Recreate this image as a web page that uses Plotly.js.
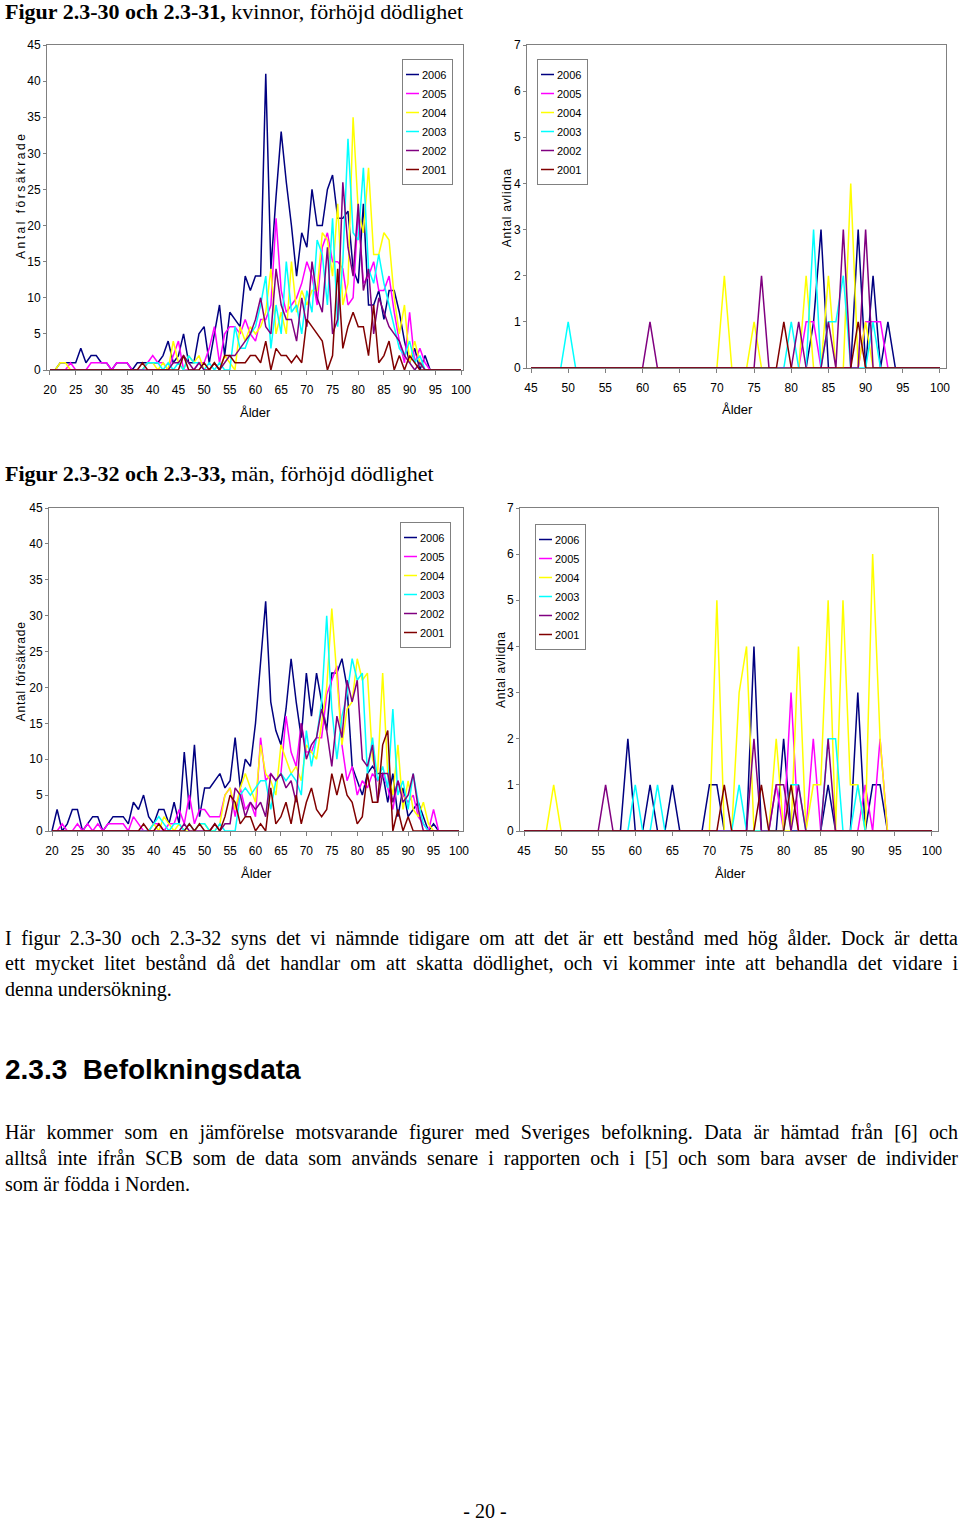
<!DOCTYPE html>
<html><head><meta charset="utf-8">
<script src="https://cdn.plot.ly/plotly-3.0.1.min.js"></script>
<style>
body{margin:0;background:#fff;width:960px;height:1521px;position:relative;overflow:hidden}
#plot{position:absolute;left:0;top:0;width:960px;height:900px}
.t{position:absolute;left:5px;font-family:"Liberation Serif","Times New Roman",serif;font-size:20px;line-height:24px;color:#000;white-space:nowrap}
.f{position:absolute;left:5px;font-family:"Liberation Serif","Times New Roman",serif;font-size:22px;line-height:26px;color:#000;white-space:nowrap}
.j{position:absolute;left:5px;width:953px;font-family:"Liberation Serif","Times New Roman",serif;font-size:20px;line-height:24px;color:#000;text-align:justify;text-align-last:justify;white-space:normal}
.h{position:absolute;left:5px;font-family:"Liberation Sans",Arial,sans-serif;font-weight:bold;font-size:28px;line-height:34px;color:#000;white-space:pre}
</style>
</head><body>
<div id="plot"></div>
<div class="f" style="top:-1px"><b>Figur 2.3-30 och 2.3-31,</b> kvinnor, förhöjd dödlighet</div>
<div class="f" style="top:461px"><b>Figur 2.3-32 och 2.3-33,</b> män, förhöjd dödlighet</div>
<div class="j" style="top:926px">I figur 2.3-30 och 2.3-32 syns det vi nämnde tidigare om att det är ett bestånd med hög ålder. Dock är detta</div>
<div class="j" style="top:951px">ett mycket litet bestånd då det handlar om att skatta dödlighet, och vi kommer inte att behandla det vidare i</div>
<div class="t" style="top:977px">denna undersökning.</div>
<div class="h" style="top:1053px">2.3.3  Befolkningsdata</div>
<div class="j" style="top:1120px">Här kommer som en jämförelse motsvarande figurer med Sveriges befolkning. Data är hämtad från [6] och</div>
<div class="j" style="top:1146px">alltså inte ifrån SCB som de data som används senare i rapporten och i [5] och som bara avser de individer</div>
<div class="t" style="top:1172px">som är födda i Norden.</div>
<div class="t" style="top:1499px;left:0;width:970px;text-align:center">- 20 -</div>
<script>
// ---- categories ----
const agesInsured = [20,21,22,23,24,25,26,27,28,29,30,31,32,33,34,35,36,37,38,39,40,41,42,43,44,45,46,47,48,49,50,51,52,53,54,55,56,57,58,59,60,61,62,63,64,65,66,67,68,69,70,71,72,73,74,75,76,77,78,79,80,81,82,83,84,85,86,87,88,89,90,91,92,93,94,95,96,97,98,99,100];
const agesDeaths = [45,46,47,48,49,50,51,52,53,54,55,56,57,58,59,60,61,62,63,64,65,66,67,68,69,70,71,72,73,74,75,76,77,78,79,80,81,82,83,84,85,86,87,88,89,90,91,92,93,94,95,96,97,98,99,100];
const years = ['2006','2005','2004','2003','2002','2001'];
const xTicksInsured = [20,25,30,35,40,45,50,55,60,65,70,75,80,85,90,95,100];
const xTicksDeaths = [45,50,55,60,65,70,75,80,85,90,95,100];
const yTicksInsured = [0,5,10,15,20,25,30,35,40,45];
const yTicksDeaths = [0,1,2,3,4,5,6,7];

// ---- women, insured (ages 20-100) ----
const w2006 = [0,0,1,1,1,1,3,1,2,2, 1,1,0,1,1,1,0,1,1,1, 1,1,2,4,1,2,5,1,1,5, 6,1,5,9,2,8,7,6,13,11, 13,13,41,14,24,33,26,20,13,19, 17,25,20,20,25,27,21,21,22,14, 12,23,9,9,11,7,11,11,8,4, 1,3,0,2,0,0,0,0,0,0,0];
const w2005 = [0,0,0,0,1,0,0,0,1,1, 1,1,0,1,1,1,0,0,0,1, 2,1,1,0,2,4,0,0,0,1, 1,3,6,1,5,6,6,5,7,5, 4,7,7,9,21,11,8,9,10,12, 15,13,9,17,19,15,15,14,9,10, 22,12,13,15,11,11,13,8,4,1, 8,1,3,1,0,0,0,0,0,0,0];
const w2004 = [0,0,1,1,0,0,0,0,0,0, 0,0,0,0,0,0,0,0,0,1, 1,0,1,0,4,1,0,2,1,2, 0,0,1,0,2,1,0,6,4,6, 5,6,8,14,5,8,5,15,8,11, 9,11,11,19,18,13,23,9,12,35, 22,19,28,16,16,19,18,10,5,9, 1,4,1,0,0,0,0,0,0,0,0];
const w2003 = [0,0,0,0,0,0,0,0,0,0, 0,0,0,0,0,0,0,0,0,1, 1,1,0,1,0,1,0,2,1,1, 0,1,0,1,0,0,6,3,3,5, 6,9,13,3,9,5,15,8,9,5, 11,8,18,16,9,21,6,15,32,19, 18,28,14,12,16,12,9,6,3,2, 4,1,2,0,0,0,0,0,0,0,0];
const w2002 = [0,0,0,0,0,0,0,0,0,0, 0,0,0,0,0,0,0,0,0,0, 0,0,0,0,1,1,2,1,0,1, 0,0,1,0,1,2,2,3,4,5, 7,10,6,5,14,9,7,7,4,10, 6,15,10,8,17,5,7,26,17,13, 23,11,14,5,10,8,6,5,4,2, 1,0,1,0,0,0,0,0,0,0,0];
const w2001 = [0,0,0,0,0,0,0,0,0,0, 0,0,0,0,0,0,0,0,1,0, 0,0,0,0,0,0,2,0,0,0, 1,0,1,0,2,2,1,1,1,2, 2,1,4,0,3,2,2,1,2,1, 7,6,5,4,0,2,14,3,6,8, 6,6,2,9,1,2,4,0,2,0, 2,1,0,0,0,0,0,0,0,0,0];

// ---- women, deaths (ages 45-100) ----
const wd2006 = [0,0,0,0,0,0,0,0,0,0, 0,0,0,0,0,0,0,0,0,0, 0,0,0,0,0,0,0,0,0,0, 0,0,0,0,0,0,0,0,1,3, 0,0,0,0,3,0,2,0,1,0, 0,0,0,0,0,0];
const wd2005 = [0,0,0,0,0,0,0,0,0,0, 0,0,0,0,0,0,0,0,0,0, 0,0,0,0,0,0,0,0,0,0, 0,0,0,0,0,0,0,1,1,0, 0,0,0,0,0,1,1,1,0,0, 0,0,0,0,0,0];
const wd2004 = [0,0,0,0,0,0,0,0,0,0, 0,0,0,0,0,0,0,0,0,0, 0,0,0,0,0,0,2,0,0,0, 1,0,0,0,0,0,0,2,0,0, 2,0,0,4,0,1,0,0,0,0, 0,0,0,0,0,0];
const wd2003 = [0,0,0,0,0,1,0,0,0,0, 0,0,0,0,0,0,0,0,0,0, 0,0,0,0,0,0,0,0,0,0, 0,0,0,0,0,1,0,0,3,0, 1,1,2,0,0,0,1,0,0,0, 0,0,0,0,0,0];
const wd2002 = [0,0,0,0,0,0,0,0,0,0, 0,0,0,0,0,0,1,0,0,0, 0,0,0,0,0,0,0,0,0,0, 0,2,0,0,0,0,1,0,0,0, 1,0,3,0,0,3,0,0,0,0, 0,0,0,0,0,0];
const wd2001 = [0,0,0,0,0,0,0,0,0,0, 0,0,0,0,0,0,0,0,0,0, 0,0,0,0,0,0,0,0,0,0, 0,0,0,0,1,0,0,0,0,0, 0,0,0,0,1,0,0,0,0,0, 0,0,0,0,0,0];

// ---- men, insured (ages 20-100) ----
const m2006 = [0,3,0,1,3,3,0,1,2,2, 0,1,2,2,2,1,4,3,5,2, 1,3,3,1,4,1,11,3,12,2, 6,6,7,8,6,7,13,6,10,9, 15,24,32,18,14,12,17,24,18,13, 22,16,22,18,14,22,22,24,20,9, 7,5,8,9,8,8,4,8,2,6, 2,3,4,2,0,1,0,0,0,0,0];
const m2005 = [0,0,1,0,0,1,0,1,0,1, 0,1,1,1,1,0,2,1,0,0, 1,1,0,1,1,3,1,5,1,3, 3,2,2,2,5,6,2,6,3,4, 2,13,7,8,7,8,16,11,9,15, 11,11,13,13,19,21,23,12,7,9, 5,7,6,8,7,8,6,3,7,5, 4,5,2,1,0,3,0,0,0,0,0];
const m2004 = [0,0,0,0,0,0,0,0,0,0, 0,0,0,0,0,0,0,0,0,0, 1,0,2,1,0,1,0,0,0,1, 1,0,0,1,5,6,3,6,8,6, 4,12,8,7,5,12,10,8,9,7, 12,11,10,15,20,31,21,12,17,18, 24,21,22,10,8,22,8,5,12,3, 7,3,2,4,1,0,0,0,0,0,0];
const m2003 = [0,0,0,0,0,0,0,0,0,0, 0,0,0,0,0,0,0,0,0,0, 1,2,1,0,1,1,0,1,0,1, 1,0,0,1,0,0,0,5,6,5, 6,7,7,3,7,8,7,8,7,5, 14,9,13,18,30,17,10,16,19,24, 21,22,8,13,7,9,6,17,5,7, 3,8,4,1,0,0,0,0,0,0,0];
const m2002 = [0,0,0,0,0,0,0,0,0,0, 0,0,0,0,0,0,0,0,0,0, 0,0,0,0,0,0,1,0,0,0, 0,0,1,0,1,1,6,5,2,4, 3,4,2,8,7,8,6,7,4,15, 10,12,13,17,14,9,16,13,21,18, 21,10,9,12,4,8,8,4,7,4, 5,8,3,0,0,0,0,0,0,0,0];
const m2001 = [0,0,0,0,0,0,0,0,0,0, 0,0,0,0,0,0,0,0,1,0, 0,1,0,0,0,0,0,1,0,1, 0,0,1,0,2,5,4,1,2,2, 0,1,0,6,1,2,4,1,5,1, 4,6,3,2,3,8,5,8,5,4, 1,2,8,4,4,12,14,0,3,0, 2,0,0,0,0,0,0,0,0,0,0];

// ---- men, deaths (ages 45-100) ----
const md2006 = [0,0,0,0,0,0,0,0,0,0, 0,0,0,0,2,0,0,1,0,0, 1,0,0,0,0,1,1,0,0,0, 0,4,0,0,0,2,0,0,0,0, 0,1,0,0,0,3,0,1,1,0, 0,0,0,0,0,0];
const md2005 = [0,0,0,0,0,0,0,0,0,0, 0,0,0,0,0,0,0,0,0,0, 0,0,0,0,0,0,0,0,0,0, 0,0,0,0,1,0,3,0,0,2, 0,0,0,0,0,0,1,0,2,0, 0,0,0,0,0,0];
const md2004 = [0,0,0,0,1,0,0,0,0,0, 0,0,0,0,0,0,0,0,0,0, 0,0,0,0,0,0,5,0,0,3, 4,0,0,0,2,0,0,4,0,1, 1,5,0,5,1,1,0,6,2,0, 0,0,0,0,0,0];
const md2003 = [0,0,0,0,0,0,0,0,0,0, 0,0,0,0,0,1,0,0,1,0, 0,0,0,0,0,0,0,0,0,1, 0,0,0,0,0,0,1,1,0,0, 0,2,2,0,0,1,0,0,0,0, 0,0,0,0,0,0];
const md2002 = [0,0,0,0,0,0,0,0,0,0, 0,1,0,0,0,0,0,0,0,0, 0,0,0,0,0,0,0,0,0,0, 0,2,0,0,1,1,0,1,0,0, 0,2,0,0,0,0,0,0,0,0, 0,0,0,0,0,0];
const md2001 = [0,0,0,0,0,0,0,0,0,0, 0,0,0,0,0,0,0,0,0,0, 0,0,0,0,0,0,0,1,0,0, 0,0,1,0,0,0,1,0,0,0, 0,0,0,0,0,0,0,0,0,0, 0,0,0,0,0,0];

const colors = ['#000080','#FF00FF','#FFFF00','#00FFFF','#800080','#800000'];

const W = 960, H = 900;
const px = x => x / W;
const py = y => 1 - y / H;

const narrow = '"Liberation Sans Narrow","Arial Narrow","Liberation Sans",Arial,sans-serif';
const tickFont = {family: narrow, size: 12, color: '#000'};

function makeTraces(ages, seriesList, xa, ya, leg) {
  return seriesList.map((ys, i) => ({
    type: 'scatter', mode: 'lines', x: ages, y: ys, name: years[i],
    xaxis: xa, yaxis: ya, legend: leg,
    line: {color: colors[i], width: 1.5},
    hoverinfo: 'skip'
  }));
}

const data = [].concat(
  makeTraces(agesInsured, [w2006,w2005,w2004,w2003,w2002,w2001], 'x', 'y', 'legend'),
  makeTraces(agesDeaths, [wd2006,wd2005,wd2004,wd2003,wd2002,wd2001], 'x2', 'y2', 'legend2'),
  makeTraces(agesInsured, [m2006,m2005,m2004,m2003,m2002,m2001], 'x3', 'y3', 'legend3'),
  makeTraces(agesDeaths, [md2006,md2005,md2004,md2003,md2002,md2001], 'x4', 'y4', 'legend4')
);

function xAxis(l, r, range, ticks, anchor) {
  return {domain: [px(l), px(r)], range: range, anchor: anchor, tickmode: 'array', tickvals: ticks,
    showline: true, mirror: true, linecolor: '#808080', linewidth: 1, ticks: 'outside', ticklen: 4,
    tickcolor: '#808080', showgrid: false, zeroline: false, tickfont: tickFont, ticklabelstandoff: 5,
    fixedrange: true};
}
function yAxis(t, b, range, ticks, anchor) {
  return {domain: [py(b), py(t)], range: range, anchor: anchor, tickmode: 'array', tickvals: ticks,
    showline: true, mirror: true, linecolor: '#808080', linewidth: 1, ticks: 'outside', ticklen: 3,
    tickcolor: '#808080', showgrid: false, zeroline: false, tickfont: tickFont, ticklabelstandoff: 0,
    fixedrange: true};
}
function legendAt(x, y, anchor) {
  return {x: px(x), y: py(y), xanchor: anchor, yanchor: 'top', bgcolor: '#fff', bordercolor: '#808080',
    borderwidth: 1, font: {family: narrow, size: 11, color: '#000'}, itemwidth: 30, tracegroupgap: 0};
}
function ann(text, x, y, angle, size) {
  return {text: text, x: px(x), y: py(y), xref: 'paper', yref: 'paper', showarrow: false,
    xanchor: 'center', yanchor: 'middle', textangle: angle || 0,
    font: {family: narrow, size: size || 13, color: '#000'}};
}

const layout = {
  width: W, height: H, margin: {l: 0, r: 0, t: 0, b: 0},
  paper_bgcolor: '#fff', plot_bgcolor: '#fff', showlegend: true,
  xaxis: xAxis(47, 463, [19.42, 100.39], xTicksInsured, 'y'),
  yaxis: yAxis(45, 370, [0, 45], yTicksInsured, 'x'),
  xaxis2: xAxis(527, 946, [44.46, 100.81], xTicksDeaths, 'y2'),
  yaxis2: yAxis(45, 368, [0, 7], yTicksDeaths, 'x2'),
  xaxis3: xAxis(49, 463, [19.41, 100.79], xTicksInsured, 'y3'),
  yaxis3: yAxis(508, 831, [0, 45], yTicksInsured, 'x3'),
  xaxis4: xAxis(520, 938, [44.46, 100.81], xTicksDeaths, 'y4'),
  yaxis4: yAxis(508, 831, [0, 7], yTicksDeaths, 'x4'),
  legend: legendAt(453, 59, 'right'),
  legend2: legendAt(537, 59, 'left'),
  legend3: legendAt(451, 522, 'right'),
  legend4: legendAt(535, 524, 'left'),
  annotations: [
    ann('Ålder', 255, 412), ann('Ålder', 737, 410), ann('Ålder', 256, 873), ann('Ålder', 730, 873),
    ann('Antal försäkrade', 21, 195, -90, 12), ann('Antal avlidna', 507, 207, -90, 12),
    ann('Antal försäkrade', 21, 671, -90, 12), ann('Antal avlidna', 501, 670, -90, 12)
  ]
};

// Compact legends: keep the text where Plotly put it, move the (shortened) line
// sample next to it and trim the box on its left side.
const leftAnchored = {legend: false, legend2: true, legend3: false, legend4: true};
const SHIFT = 21;

function compactLegends() {
  document.querySelectorAll('#plot g.legend, #plot g.legend2, #plot g.legend3, #plot g.legend4').forEach(g => {
    const name = (g.getAttribute('class') || '').split(' ').find(c => /^legend\d*$/.test(c)) || 'legend';
    g.querySelectorAll('.legendlines path').forEach(p => p.setAttribute('d', 'M24,0h13'));
    const bg = g.querySelector('rect.bg');
    if (bg) {
      if (bg.dataset.w0 === undefined) {
        bg.dataset.w0 = bg.getAttribute('width');
        bg.dataset.x0 = bg.getAttribute('x') || '0';
      }
      const w0 = parseFloat(bg.dataset.w0), x0 = parseFloat(bg.dataset.x0) || 0;
      if (!isNaN(w0)) {
        bg.setAttribute('x', x0 + SHIFT);
        bg.setAttribute('width', w0 - SHIFT);
      }
    }
    if (leftAnchored[name]) {
      if (g.dataset.tr0 === undefined) g.dataset.tr0 = g.getAttribute('transform') || '';
      const m = g.dataset.tr0.match(/translate\(\s*([-\d.]+)[ ,]+([-\d.]+)\s*\)/);
      if (m) g.setAttribute('transform', 'translate(' + (parseFloat(m[1]) - SHIFT) + ',' + m[2] + ')');
    }
  });
}

Plotly.newPlot('plot', data, layout, {staticPlot: true, displayModeBar: false}).then(() => {
  const items = document.querySelectorAll('#plot .annotation-text');
  const sp = ['', '', '', '', '2.5px', '0.8px', '0.8px', '0.6px'];
  items.forEach((el, i) => { if (sp[i]) el.style.letterSpacing = sp[i]; });
  compactLegends();
  requestAnimationFrame(compactLegends);
  setTimeout(compactLegends, 30);
  setTimeout(compactLegends, 150);
});
</script>
</body></html>
